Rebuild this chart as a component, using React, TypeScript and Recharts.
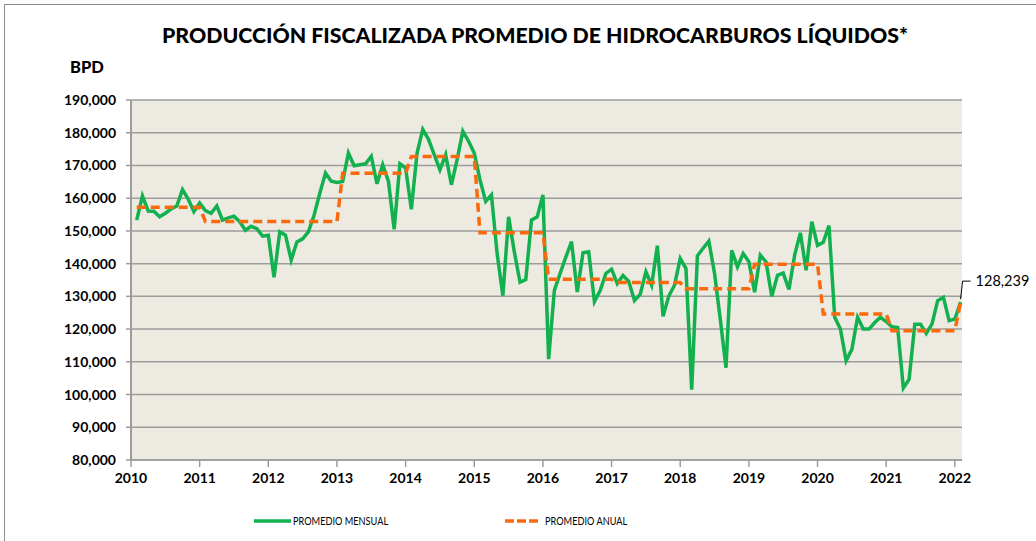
import { LineChart, Line, XAxis, YAxis, CartesianGrid } from "recharts"

const TITLE = "PRODUCCIÓN FISCALIZADA PROMEDIO DE HIDROCARBUROS LÍQUIDOS*"
const UNIT = "BPD"

const years = [2010, 2011, 2012, 2013, 2014, 2015, 2016, 2017, 2018, 2019, 2020, 2021, 2022]

// monthly production, bpd (Jan..Dec)
const m2010 = [153300, 160700, 156100, 156000, 154300, 155400, 156700, 157600, 162600, 159700, 155900, 158500]
const m2011 = [156200, 155400, 157600, 153300, 154000, 154500, 152800, 150200, 151400, 150700, 148400, 148700]
const m2012 = [135800, 149700, 148700, 141100, 146600, 147600, 149700, 154800, 161500, 167700, 165200, 164800]
const m2013 = [165100, 173800, 169900, 170200, 170500, 172800, 164400, 170200, 165100, 150500, 170500, 169200]
const m2014 = [156600, 173800, 181000, 178000, 173300, 168700, 173300, 164100, 171800, 180500, 177400, 173800]
const m2015 = [165600, 159000, 161000, 143000, 130200, 154300, 143600, 134300, 135100, 153300, 154300, 161000]
const m2016 = [110800, 131800, 137000, 142000, 146700, 131300, 143300, 143600, 128400, 131800, 137000, 138300]
const m2017 = [133900, 136400, 134600, 128700, 130600, 137500, 133400, 145500, 123900, 130100, 133400, 141600]
const m2018 = [138500, 101500, 142400, 144700, 146900, 137000, 123000, 108200, 144100, 139000, 143100, 140600]
const m2019 = [131300, 142600, 140500, 130000, 136400, 137100, 132100, 142600, 149400, 138000, 152800, 145600]
const m2020 = [146500, 151600, 123600, 120000, 110300, 113800, 123600, 120000, 120000, 122000, 123600, 122300]
const m2021 = [120700, 120500, 102000, 104600, 121500, 121500, 118700, 121500, 128700, 129700, 122600, 123100]
const m2022 = [128239]

// yearly average, bpd
const anual = [157200, 152900, 152900, 167600, 172700, 149400, 135200, 134200, 132300, 139800, 124600, 119500, 128239]

const yTicks = [80000, 90000, 100000, 110000, 120000, 130000, 140000, 150000, 160000, 170000, 180000, 190000]
const xTicks = years.map((_, i) => i * 12)

const mensual = [...m2010, ...m2011, ...m2012, ...m2013, ...m2014, ...m2015, ...m2016, ...m2017, ...m2018, ...m2019, ...m2020, ...m2021, ...m2022]
const data = mensual.map((v, i) => ({ k: i + 1, mensual: v, anual: anual[Math.floor(i / 12)] }))

const GREEN = "#12b04f"
const ORANGE = "#fa6a0c"
const GRID = "#9c9c9c"
const FONT = "Lato, 'DejaVu Sans', sans-serif"

const fmt = (v: number) => v.toLocaleString("en-US")

function LastLabel(props: any) {
  const { x, y, index } = props
  if (index !== data.length - 1) return null
  return (
    <g>
      <path d={`M${x},${y - 3} L${x + 2},${y - 21} L${x + 10},${y - 21}`} stroke="#000" strokeWidth={1} fill="none" />
      <text x={x + 15} y={y - 16} fontSize={14.5} fontFamily={FONT} fill="#000">
        {fmt(anual[anual.length - 1])}
      </text>
    </g>
  )
}

const legendText = { display: "inline-block", fontSize: 11.5, transform: "scaleX(0.8)", transformOrigin: "left center", whiteSpace: "nowrap" as const }

export default function App() {
  return (
    <div style={{ position: "absolute", left: 0, top: 0, width: 1036, height: 541, overflow: "hidden", background: "#fff" }}>
      <div style={{ position: "absolute", left: 4, top: 4, width: 1040, height: 545, border: "1px solid #8c8c8c" }} />
      <div style={{ position: "absolute", left: 0, width: 1070, top: 22, textAlign: "center", fontFamily: FONT, fontWeight: 900, fontSize: 21.3, color: "#000" }}>
        {TITLE}
      </div>
      <div style={{ position: "absolute", left: 70, top: 57, fontFamily: FONT, fontWeight: 900, fontSize: 16.5, color: "#000" }}>{UNIT}</div>
      <div style={{ position: "absolute", left: 0, top: 0 }}>
        <LineChart width={1036} height={541} data={data} margin={{ top: 100, right: 74, bottom: 41, left: 71 }}>
          <CartesianGrid vertical={false} stroke={GRID} strokeWidth={1.5} fill="#edebe1" fillOpacity={1} />
          <XAxis
            dataKey="k"
            type="number"
            domain={[0, 145.25]}
            ticks={xTicks}
            interval={0}
            tickFormatter={(t: number) => String(2010 + t / 12)}
            height={40}
            tickSize={7}
            tickMargin={6}
            axisLine={{ stroke: GRID, strokeWidth: 1.5 }}
            tickLine={{ stroke: GRID, strokeWidth: 1.5 }}
            tick={{ fontSize: 14, fontWeight: 700, fill: "#000", fontFamily: FONT }}
          />
          <YAxis
            type="number"
            domain={[80000, 190000]}
            ticks={yTicks}
            interval={0}
            width={60}
            tickSize={5}
            tickMargin={10}
            tickFormatter={fmt}
            axisLine={{ stroke: GRID, strokeWidth: 2 }}
            tickLine={{ stroke: GRID, strokeWidth: 1.5 }}
            tick={{ fontSize: 14, fontWeight: 700, fill: "#000", fontFamily: FONT }}
          />
          <Line type="linear" dataKey="mensual" stroke={GREEN} strokeWidth={3.5} dot={false} isAnimationActive={false} />
          <Line
            type="linear"
            dataKey="anual"
            stroke={ORANGE}
            strokeWidth={3.5}
            strokeDasharray="9 5"
            dot={false}
            label={LastLabel}
            isAnimationActive={false}
          />
        </LineChart>
      </div>
      <div style={{ position: "absolute", left: 254, top: 514, display: "flex", alignItems: "center", fontFamily: FONT, color: "#000" }}>
        <svg width={38} height={10}>
          <line x1={0} y1={5} x2={37} y2={5} stroke={GREEN} strokeWidth={3.5} />
        </svg>
        <span style={{ ...legendText, marginLeft: 1 }}>PROMEDIO MENSUAL</span>
      </div>
      <div style={{ position: "absolute", left: 505, top: 514, display: "flex", alignItems: "center", fontFamily: FONT, color: "#000" }}>
        <svg width={36} height={10}>
          <line x1={0} y1={5} x2={34} y2={5} stroke={ORANGE} strokeWidth={3.5} strokeDasharray="9 3" />
        </svg>
        <span style={{ ...legendText, marginLeft: 4 }}>PROMEDIO ANUAL</span>
      </div>
    </div>
  )
}
